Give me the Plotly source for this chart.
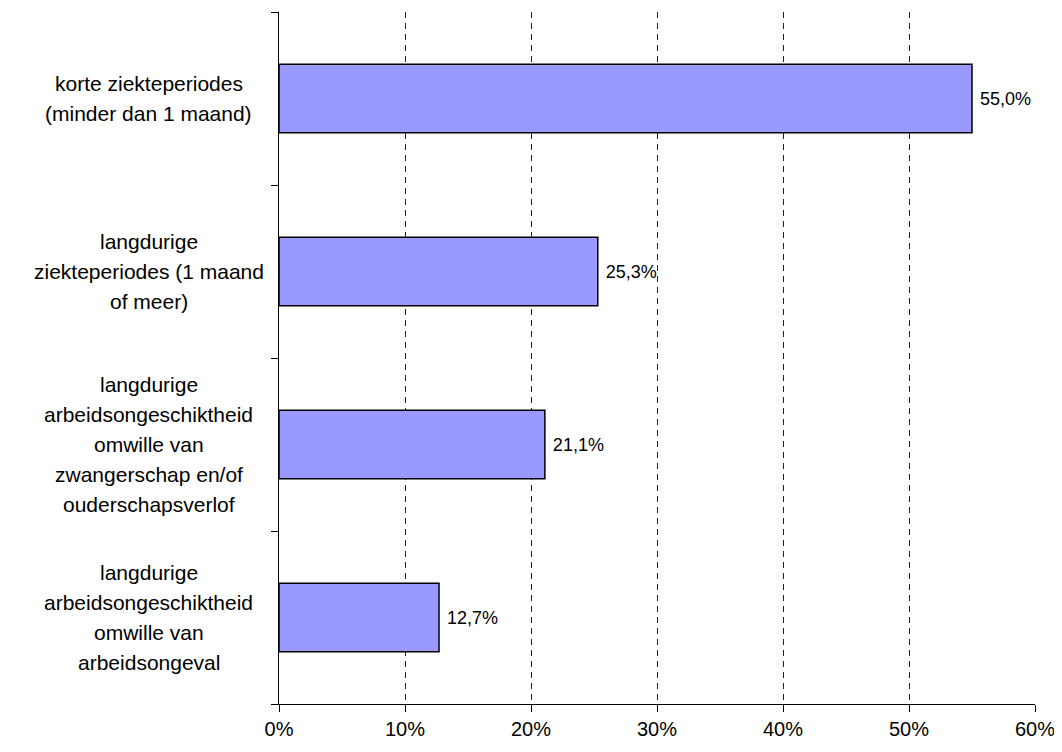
import plotly.graph_objects as go

categories = [
    "korte ziekteperiodes<br>(minder dan 1 maand)",
    "langdurige<br>ziekteperiodes (1 maand<br>of meer)",
    "langdurige<br>arbeidsongeschiktheid<br>omwille van<br>zwangerschap en/of<br>ouderschapsverlof",
    "langdurige<br>arbeidsongeschiktheid<br>omwille van<br>arbeidsongeval",
]
values = [55.0, 25.3, 21.1, 12.7]
tick_values = [0, 10, 20, 30, 40, 50, 60]
tick_labels = ["0%", "10%", "20%", "30%", "40%", "50%", "60%"]

FONT = "Liberation Sans, Arial, sans-serif"
positions = list(range(len(categories)))

fig = go.Figure()
fig.add_trace(go.Bar(
    x=values,
    y=positions,
    orientation="h",
    width=0.395,
    marker=dict(color="#9999FF", line=dict(color="#000000", width=1.5)),
    text=values,
    texttemplate="\u00a0%{x:.1f}%",
    textposition="outside",
    textfont=dict(family=FONT, size=18, color="#000000"),
    cliponaxis=False,
    hoverinfo="skip",
))

annotations = []
line_gap = 30
for i, cat in enumerate(categories):
    lines = cat.split("<br>")
    n = len(lines)
    for j, ln in enumerate(lines):
        annotations.append(dict(
            text=ln, xref="paper", yref="y", x=-0.172, y=i,
            xanchor="center", yanchor="middle", showarrow=False,
            yshift=((n - 1) / 2 - j) * line_gap,
            font=dict(family=FONT, size=21, color="#000000"),
        ))

# page body has an 8px default margin, so the figure is 8px smaller
fig.update_layout(
    width=1054, height=744,
    margin=dict(l=271, r=27, t=4, b=48),
    plot_bgcolor="#FFFFFF", paper_bgcolor="#FFFFFF",
    separators=",.",
    showlegend=False,
    annotations=annotations,
    font=dict(family=FONT, size=20, color="#000000"),
)
fig.update_xaxes(
    range=[0, 60], tickvals=tick_values, ticktext=tick_labels,
    showline=True, linecolor="#000000", linewidth=1.2,
    ticks="outside", ticklen=7, tickcolor="#000000", tickwidth=1,
    showgrid=True, gridcolor="#222222", gridwidth=1, griddash="6px,5px",
    zeroline=False, tickfont=dict(family=FONT, size=20, color="#000000"),
)
fig.update_yaxes(
    range=[len(categories) - 0.5, -0.5],
    tickvals=[p - 0.5 for p in positions] + [len(categories) - 0.5],
    showticklabels=False,
    showline=True, linecolor="#000000", linewidth=1.2,
    ticks="outside", ticklen=7, tickcolor="#000000", tickwidth=1,
    showgrid=False, zeroline=False,
)

fig.write_html("out.html")
